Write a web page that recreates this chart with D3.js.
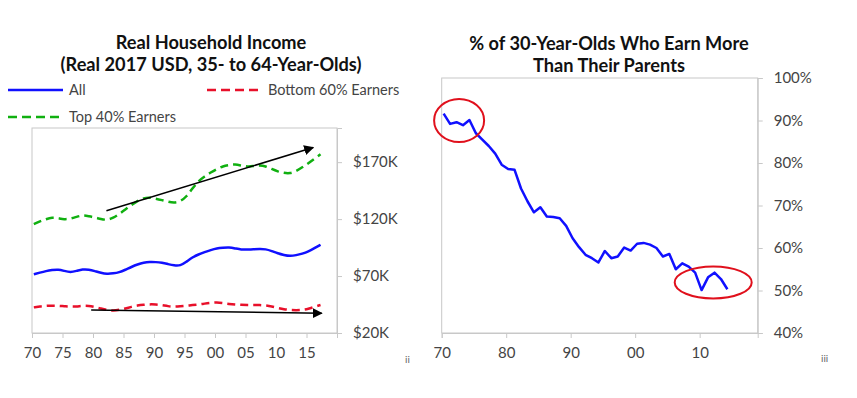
<!DOCTYPE html>
<html>
<head>
<meta charset="utf-8">
<script src="https://cdn.jsdelivr.net/npm/d3@7"></script>
<style>
  body { margin: 0; background: #fff; }
  svg { display: block; font-family: Lato, "Open Sans", sans-serif; }
</style>
</head>
<body>
<div id="chart"></div>
<script>
// Left panel: real household income, thousands of 2017 USD
const incomeYears = d3.range(1970, 2018);
const incomeAll = [71.5, 73.0, 74.4, 75.3, 75.9, 74.5, 73.2, 74.5, 76.0, 75.8,
  74.4, 72.8, 71.8, 72.3, 73.2, 75.5, 78.0, 80.2, 81.8, 82.5,
  82.3, 81.7, 80.5, 79.3, 79.0, 82.5, 86.5, 89.0, 91.0, 92.8,
  94.3, 94.8, 95.2, 94.3, 93.2, 93.2, 93.6, 93.7, 93.7, 92.0,
  89.9, 88.5, 87.5, 88.3, 89.6, 91.5, 94.5, 97.5];
const incomeBottom60 = [42.5, 43.2, 44.0, 44.0, 43.8, 43.5, 43.2, 43.2, 44.0, 43.8,
  42.8, 41.5, 40.2, 39.6, 40.3, 41.5, 43.0, 44.2, 44.8, 45.2,
  45.1, 44.5, 43.5, 43.1, 43.5, 44.0, 44.5, 45.0, 45.8, 46.5,
  46.9, 46.3, 45.5, 45.0, 44.7, 44.6, 44.6, 44.6, 44.2, 43.3,
  42.0, 40.8, 40.2, 40.0, 40.2, 41.2, 43.0, 44.6];
const incomeTop40 = [115.6, 118.0, 120.0, 121.5, 120.8, 119.7, 120.3, 122.0, 123.5, 122.5,
  121.5, 120.0, 119.1, 121.0, 124.4, 128.5, 132.5, 136.0, 138.5, 139.0,
  138.0, 136.7, 135.3, 134.3, 135.5, 139.5, 147.0, 153.5, 157.5, 161.0,
  164.0, 166.5, 167.5, 168.2, 167.0, 166.0, 166.5, 167.2, 166.5, 164.0,
  161.8, 160.5, 160.1, 162.0, 165.5, 169.0, 173.0, 177.0];
const incomeTicks = [20, 70, 120, 170];
const incomeXTicks = d3.range(1970, 2021, 5);
// trend arrows [year, value] -> [year, value]
const incomeArrows = [
  [[1982.2, 127.3], [2016.1, 182.9]],
  [[1979.7, 40.2], [2017.5, 37.3]]
];

// Right panel: % of 30-year-olds earning more than their parents
const mobilityYears = d3.range(1970, 2015);
const mobilityPct = [91.6, 89.2, 89.6, 88.9, 90.1, 87.0, 85.5, 84.0, 82.2, 79.6,
  78.6, 78.4, 74.0, 71.0, 68.4, 69.6, 67.4, 67.3, 67.0, 65.2,
  62.3, 60.2, 58.4, 57.6, 56.6, 59.3, 57.6, 58.0, 60.1, 59.4,
  61.0, 61.2, 60.8, 60.0, 58.0, 58.6, 55.0, 56.4, 55.6, 54.2,
  50.1, 53.1, 54.2, 52.7, 50.3];
const mobilityTicks = [40, 50, 60, 70, 80, 90, 100];
const mobilityXTicks = [1970, 1980, 1990, 2000, 2010];
// highlighted spans: centre [year, pct]
const mobilityCircles = [[1972.7, 90.0], [2012.1, 51.9]];

const W = 857, H = 398;
const axisGrey = '#c8c8c8';
const textGrey = '#444';

const svg = d3.select('#chart').append('svg')
  .attr('width', W).attr('height', H);

svg.append('defs').append('marker')
  .attr('id', 'arrow')
  .attr('viewBox', '0 0 10 10')
  .attr('refX', 9).attr('refY', 5)
  .attr('markerWidth', 10).attr('markerHeight', 10)
  .attr('markerUnits', 'userSpaceOnUse')
  .attr('orient', 'auto')
  .append('path').attr('d', 'M0,0L10,5L0,10Z').attr('fill', '#000');

// two-digit year labels; the closing 2020 tick on the left has no label
const yrLabel = d => d === 2020 ? '' : String(d % 100).padStart(2, '0');

function frame(g, x, y) {
  const [x0, x1] = x.range(), [y0, y1] = y.range();
  g.append('rect')
    .attr('x', x0).attr('y', y1)
    .attr('width', x1 - x0).attr('height', y0 - y1)
    .attr('fill', 'none').attr('stroke', axisGrey).attr('stroke-width', 1);
}

function axes(g, x, y, xTicks, yTicks, yFmt) {
  const [x0, x1] = x.range(), [y0] = y.range();
  const xa = g.append('g')
    .attr('transform', `translate(0,${y0})`)
    .call(d3.axisBottom(x).tickValues(xTicks).tickFormat(yrLabel).tickSize(5).tickPadding(9));
  const ya = g.append('g')
    .attr('transform', `translate(${x1},0)`)
    .call(d3.axisRight(y).tickValues(yTicks).tickFormat(yFmt).tickSize(5).tickPadding(11));
  [xa, ya].forEach(a => {
    a.select('.domain').attr('stroke', axisGrey);
    a.selectAll('.tick line').attr('stroke', axisGrey);
    a.selectAll('.tick text')
      .attr('fill', textGrey)
      .style('font-size', '15px')
      .style('font-family', 'Lato, sans-serif');
  });
}

// ---------- Left panel ----------
{
  const x = d3.scaleLinear().domain([1970, 2020]).range([32, 337]);
  const y = d3.scaleLinear().domain([20, 200]).range([333, 128]);
  const g = svg.append('g');
  frame(g, x, y);
  axes(g, x, y, incomeXTicks, incomeTicks, d => `$${d}K`);

  const line = vals => d3.line()
    .x((d, i) => x(incomeYears[i] + 0.3))
    .y(d => y(d))
    .curve(d3.curveBasis)(vals);

  g.append('path').attr('d', line(incomeTop40))
    .attr('fill', 'none').attr('stroke', '#10b010').attr('stroke-width', 2.5)
    .attr('stroke-dasharray', '8,5');
  g.append('path').attr('d', line(incomeBottom60))
    .attr('fill', 'none').attr('stroke', '#e8102a').attr('stroke-width', 2.5)
    .attr('stroke-dasharray', '8,5');
  g.append('path').attr('d', line(incomeAll))
    .attr('fill', 'none').attr('stroke', '#1010ff').attr('stroke-width', 2.5);

  incomeArrows.forEach(([a, b]) => {
    g.append('line')
      .attr('x1', x(a[0])).attr('y1', y(a[1]))
      .attr('x2', x(b[0])).attr('y2', y(b[1]))
      .attr('stroke', '#000').attr('stroke-width', 1.5)
      .attr('marker-end', 'url(#arrow)');
  });

  const title = g.append('text').attr('text-anchor', 'middle')
    .attr('font-weight', 'bold').attr('font-size', 18.2).attr('fill', '#111');
  title.append('tspan').attr('x', 211).attr('y', 49).text('Real Household Income');
  title.append('tspan').attr('x', 211).attr('y', 71).text('(Real 2017 USD, 35- to 64-Year-Olds)');

  const legend = [
    {label: 'All', color: '#1010ff', dash: null, x: 8, y: 90},
    {label: 'Bottom 60% Earners', color: '#e8102a', dash: '9,5', x: 207, y: 90},
    {label: 'Top 40% Earners', color: '#10b010', dash: '9,5', x: 8, y: 117}
  ];
  legend.forEach(l => {
    g.append('line')
      .attr('x1', l.x).attr('x2', l.x + 55).attr('y1', l.y).attr('y2', l.y)
      .attr('stroke', l.color).attr('stroke-width', 2.5)
      .attr('stroke-dasharray', l.dash);
    g.append('text').attr('x', l.x + 61).attr('y', l.y + 5)
      .attr('font-size', 14.5).attr('fill', textGrey).text(l.label);
  });

  g.append('text').attr('x', 405).attr('y', 363)
    .attr('font-size', 10).attr('fill', '#666').text('ii');
}

// ---------- Right panel ----------
{
  const x = d3.scaleLinear().domain([1970, 2019]).range([441.7, 757.7]);
  const y = d3.scaleLinear().domain([40, 100]).range([333, 78]);
  const g = svg.append('g');
  frame(g, x, y);
  axes(g, x, y, mobilityXTicks, mobilityTicks, d => `${d}%`);

  g.append('path')
    .attr('d', d3.line()
      .x((d, i) => x(mobilityYears[i] + 0.3))
      .y(d => y(d))(mobilityPct))
    .attr('fill', 'none').attr('stroke', '#1010ff').attr('stroke-width', 2.5)
    .attr('stroke-linejoin', 'round');

  const radii = [[25, 21.5], [38.5, 16]];
  mobilityCircles.forEach((c, i) => {
    g.append('ellipse')
      .attr('cx', x(c[0])).attr('cy', y(c[1]))
      .attr('rx', radii[i][0]).attr('ry', radii[i][1])
      .attr('fill', 'none').attr('stroke', '#e0101c').attr('stroke-width', 2);
  });

  const title = g.append('text').attr('text-anchor', 'middle')
    .attr('font-weight', 'bold').attr('font-size', 18.2).attr('fill', '#111');
  title.append('tspan').attr('x', 609).attr('y', 50).text('% of 30-Year-Olds Who Earn More');
  title.append('tspan').attr('x', 609).attr('y', 72).text('Than Their Parents');

  g.append('text').attr('x', 821).attr('y', 362)
    .attr('font-size', 10).attr('fill', '#666').text('iii');
}
</script>
</body>
</html>
